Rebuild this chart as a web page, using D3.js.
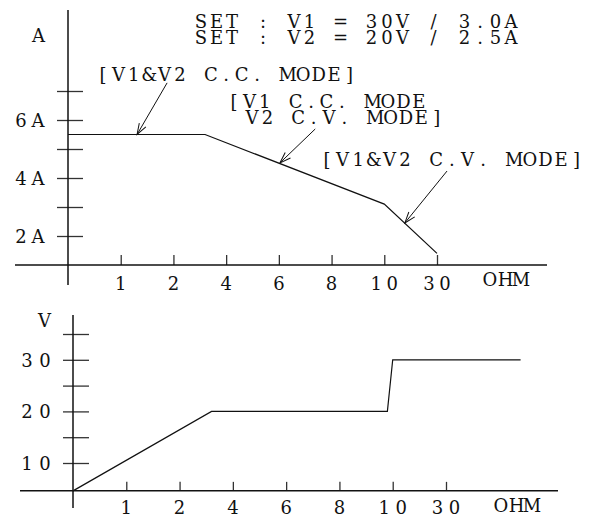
<!DOCTYPE html>
<html>
<head>
<meta charset="utf-8" />
<script src="https://d3js.org/d3.v7.min.js"></script>
<style>
  body { margin: 0; background: #fff; }
  text { font-family: "DejaVu Serif", "Liberation Serif", serif; fill: #111; }
  .tick line { stroke: #333; stroke-width: 1.3; }
</style>
</head>
<body>
<script>
  // chart values
  var ohmLabels = ["1", "2", "4", "6", "8", "10", "30"];   // x ticks, at positions 1..7
  var ampTicks  = [2, 3, 4, 5, 6, 7];
  var voltTicks = [10, 15, 20, 25, 30, 35];

  // current vs load (position on the ohm axis, amps)
  var ccIdx = [0, 2.6, 6, 7];
  var ccAmp = [5.5, 5.5, 3.1, 1.4];

  // voltage vs load (position on the ohm axis, volts)
  var cvIdx  = [0, 2.6, 5.9, 6.0, 8.4];
  var cvVolt = [4.6, 20, 20, 30, 30];

  var setLines = ["SET : V1 = 30V / 3.0A", "SET : V2 = 20V / 2.5A"];
  var modeNotes = [
    { text: ["[V1&V2 C.C. MODE]"], from: [1.88, 7.28], to: [1.31, 5.5] },
    { text: ["[V1 C.C. MODE", "V2 C.V. MODE]"], from: [4.69, 5.69], to: [4.02, 4.52] },
    { text: ["[V1&V2 C.V. MODE]"], from: [7.19, 4.24], to: [6.39, 2.45] }
  ];

  var W = 590, H = 519;
  var FS = 18;
  var svg = d3.select("body").append("svg").attr("width", W).attr("height", H);

  svg.append("defs").append("marker")
     .attr("id", "arr")
     .attr("viewBox", "-12 -6 14 12")
     .attr("refX", 0).attr("refY", 0)
     .attr("markerWidth", 14).attr("markerHeight", 12)
     .attr("markerUnits", "userSpaceOnUse")
     .attr("orient", "auto")
     .append("path")
     .attr("d", "M-11,-3.8L0,0L-11,3.8")
     .attr("fill", "none").attr("stroke", "#111").attr("stroke-width", 1);

  // text with one glyph per fixed-width cell (each char centred on its x)
  function fixedText(g, str, cx, y, pitch, size) {
    var xs = str.split("").map(function(c, i) { return cx + i * pitch; });
    return g.append("text")
            .attr("x", xs.join(" "))
            .attr("y", y)
            .attr("text-anchor", "middle")
            .style("font-size", size + "px")
            .text(str);
  }

  function rightText(g, str, lastCx, y, pitch, size) {
    return fixedText(g, str, lastCx - (str.length - 1) * pitch, y, pitch, size);
  }

  function axisLine(x1, y1, x2, y2) {
    svg.append("line")
       .attr("x1", x1).attr("y1", y1).attr("x2", x2).attr("y2", y2)
       .attr("stroke", "#111").attr("stroke-width", 1.5);
  }

  // ---------------- top: current ----------------
  var xTop = d3.scaleLinear().domain([0, 7]).range([68, 437]);
  var yTop = d3.scaleLinear().domain([2, 7]).range([236, 91]);

  var gxT = svg.append("g")
     .attr("transform", "translate(0," + yTop(1) + ")")
     .call(d3.axisBottom(xTop).tickValues(d3.range(1, 8)).tickSize(-10).tickSizeOuter(0).tickFormat(""));
  gxT.select(".domain").remove();
  axisLine(15, yTop(1), 547, yTop(1));

  var gyT = svg.append("g")
     .attr("transform", "translate(" + xTop(0) + ",0)")
     .call(d3.axisLeft(yTop).tickValues(ampTicks).tickSize(11).tickFormat(""));
  gyT.select(".domain").remove();
  gyT.selectAll(".tick line").attr("x1", 15);
  axisLine(xTop(0), 10, xTop(0), 285);

  ohmLabels.forEach(function(l, i) {
    var n = l.length;
    fixedText(svg, l, xTop(i + 1) - (n - 1) * 16 / 2, 290, 16, FS);
  });
  fixedText(svg, "OHM", 490, 286, 15.5, FS);

  ampTicks.filter(function(v) { return v % 2 === 0; }).forEach(function(v) {
    rightText(svg, v + "A", 38, yTop(v) + 7, 17, FS);
  });
  fixedText(svg, "A", 38.5, 42, 16, FS);

  var lineTop = d3.line()
     .x(function(d) { return xTop(d[0]); })
     .y(function(d) { return yTop(d[1]); });
  svg.append("path")
     .datum(d3.zip(ccIdx, ccAmp))
     .attr("d", lineTop)
     .attr("fill", "none").attr("stroke", "#111").attr("stroke-width", 1.2);

  setLines.forEach(function(s, i) {
    fixedText(svg, s, 201, 28 + i * 16, 15.5, FS);
  });

  var notePos = [
    [[103, 81]],
    [[234, 108], [252, 124]],
    [[327, 166]]
  ];
  var notePitch = [15.4, 15.4, 15.6];

  modeNotes.forEach(function(m, k) {
    m.text.forEach(function(t, j) {
      fixedText(svg, t, notePos[k][j][0], notePos[k][j][1], notePitch[k], FS);
    });
    svg.append("line")
       .attr("x1", xTop(m.from[0])).attr("y1", yTop(m.from[1]))
       .attr("x2", xTop(m.to[0])).attr("y2", yTop(m.to[1]))
       .attr("stroke", "#111").attr("stroke-width", 1)
       .attr("marker-end", "url(#arr)");
  });

  // ---------------- bottom: voltage ----------------
  var xBot = d3.scaleLinear().domain([0, 7]).range([73, 446]);
  var yBot = d3.scaleLinear().domain([10, 35]).range([463, 334]);
  var axisV = cvVolt[0];

  var gxB = svg.append("g")
     .attr("transform", "translate(0," + yBot(axisV) + ")")
     .call(d3.axisBottom(xBot).tickValues(d3.range(1, 8)).tickSize(-9).tickSizeOuter(0).tickFormat(""));
  gxB.select(".domain").remove();
  axisLine(20, yBot(axisV), 558, yBot(axisV));

  var gyB = svg.append("g")
     .attr("transform", "translate(" + xBot(0) + ",0)")
     .call(d3.axisLeft(yBot).tickValues(voltTicks).tickSize(10).tickFormat(""));
  gyB.select(".domain").remove();
  gyB.selectAll(".tick line").attr("x1", 16);
  axisLine(xBot(0), 315, xBot(0), 508);

  ohmLabels.forEach(function(l, i) {
    var n = l.length;
    fixedText(svg, l, xBot(i + 1) - (n - 1) * 17 / 2, 514, 17, FS);
  });
  fixedText(svg, "OHM", 501, 512, 15.5, FS);

  voltTicks.filter(function(v) { return v % 10 === 0; }).forEach(function(v) {
    rightText(svg, String(v), 45, yBot(v) + 7, 18, FS);
  });
  fixedText(svg, "V", 44.5, 327, 16, FS);

  var lineBot = d3.line()
     .x(function(d) { return xBot(d[0]); })
     .y(function(d) { return yBot(d[1]); });
  svg.append("path")
     .datum(d3.zip(cvIdx, cvVolt))
     .attr("d", lineBot)
     .attr("fill", "none").attr("stroke", "#111").attr("stroke-width", 1.2);
</script>
</body>
</html>
